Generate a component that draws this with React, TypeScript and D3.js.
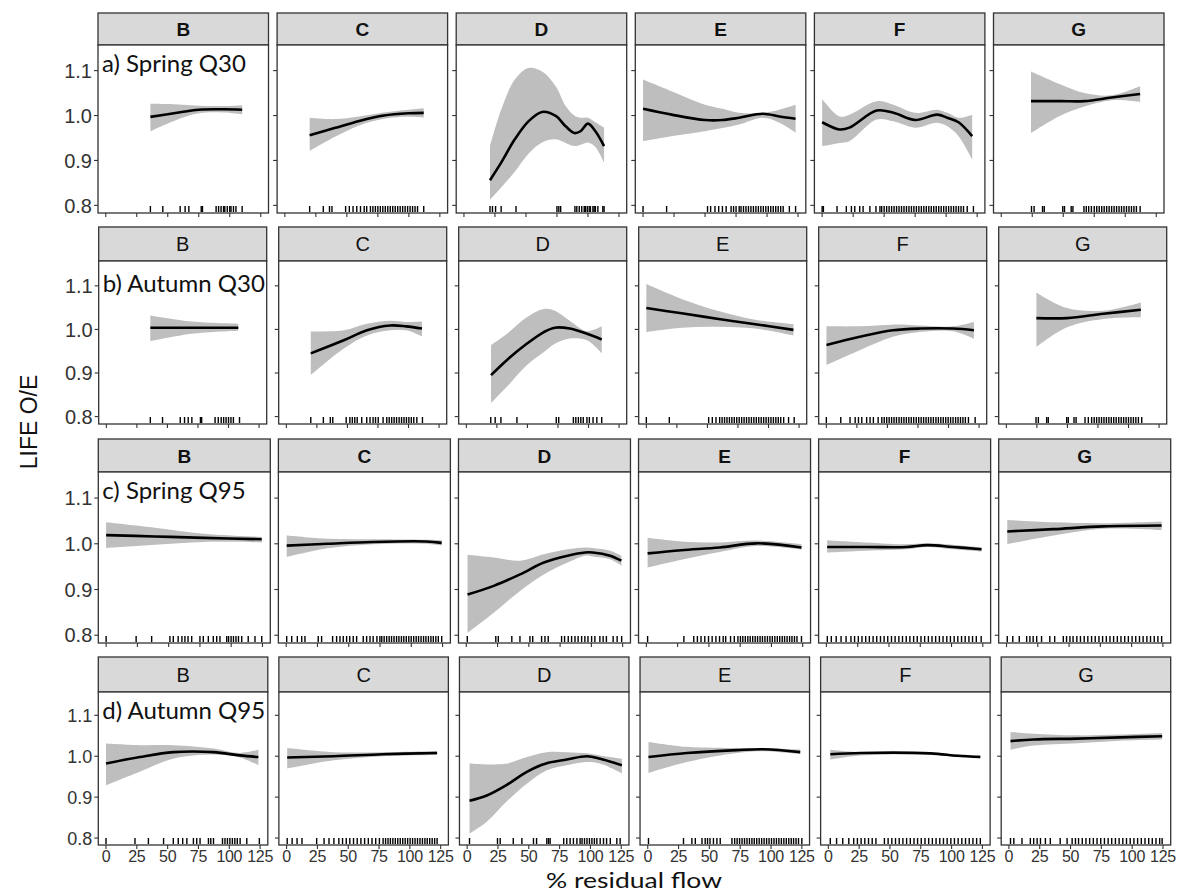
import React from 'react';
import * as d3 from 'd3';

// facet categories
const rivers = ['B', 'C', 'D', 'E', 'F', 'G'];
const rowLabels = ['a) Spring Q30', 'b) Autumn Q30', 'c) Spring Q95', 'd) Autumn Q95'];
const xTicks = [0, 25, 50, 75, 100, 125];
const yTicks = [0.8, 0.9, 1.0, 1.1];
const yTickLabels = ['0.8', '0.9', '1.0', '1.1'];

// smooth fits: [residual flow, fit, lower, upper]
// a) Spring Q30
const aB = [[36, .997, .965, 1.026], [55, 1.005, .988, 1.025], [75, 1.013, 1.005, 1.022], [95, 1.014, 1.007, 1.021], [110, 1.013, 1.003, 1.023]];
const aC = [[20, .956, .921, .995], [40, .972, .952, .992], [60, .988, .978, .998], [80, 1.0, .993, 1.007], [100, 1.005, .997, 1.013], [112, 1.006, .995, 1.016]];
const aD = [[21, .856, .813, .932], [30, .895, .84, 1.013], [41, .947, .875, 1.08], [52, .987, .915, 1.106], [63, 1.008, .94, 1.098], [74, .999, .947, 1.065], [82, .976, .939, 1.021], [89, .961, .932, 1.0], [94, .965, .935, .995], [100, .982, .94, .995], [106, .965, .93, .985], [113, .932, .895, .973]];
const aE = [[0, 1.015, .943, 1.08], [23, 1.002, .954, 1.054], [50, .99, .965, 1.024], [64, .99, .972, 1.015], [77.5, .995, .98, 1.006], [96.5, 1.004, .995, 1.006], [110, .998, .984, 1.013], [123, .993, .962, 1.024]];
const aF = [[0, .985, .932, 1.037], [14, .969, .939, .998], [22, .973, .943, 1.002], [44, 1.011, .991, 1.032], [57.5, 1.006, .987, 1.024], [75, .99, .973, 1.006], [92.7, 1.002, .984, 1.013], [101, .995, .976, 1.006], [110, .985, .954, .995], [121, .954, .902, 1.002]];
const aG = [[24, 1.032, .961, 1.098], [48, 1.032, 1.0, 1.069], [67, 1.032, 1.02, 1.05], [89, 1.04, 1.034, 1.045], [112, 1.048, 1.03, 1.065]];
// b) Autumn Q30
const bB = [[36, 1.004, .973, 1.032], [70, 1.004, .99, 1.018], [108, 1.004, .997, 1.013]];
const bC = [[20, .945, .895, .995], [47, .975, .956, .998], [66, .998, .986, 1.013], [85, 1.009, .998, 1.02], [98, 1.007, .998, 1.017], [111, 1.002, .984, 1.018]];
const bD = [[20.2, .895, .831, .964], [33.3, .93, .869, .99], [49.4, .967, .918, 1.028], [63.5, .994, .948, 1.047], [72.5, 1.004, .967, 1.043], [84.6, 1.002, .979, 1.02], [98.7, .99, .975, .996], [110.8, .977, .945, 1.007]];
const bE = [[0, 1.049, .994, 1.104], [28.9, 1.037, 1.004, 1.07], [59.1, 1.024, 1.006, 1.042], [89.2, 1.012, 1.002, 1.022], [120.4, .999, .986, 1.012]];
const bF = [[0.1, .964, .918, 1.007], [27.3, .983, .952, 1.007], [54.4, .998, .983, 1.011], [76.6, 1.002, .994, 1.009], [103.7, 1.002, .996, 1.007], [120.8, .998, .979, 1.017]];
const bG = [[24.6, 1.026, .96, 1.085], [49.7, 1.026, 1.005, 1.049], [79.4, 1.036, 1.024, 1.043], [110.1, 1.045, 1.028, 1.062]];
// c) Spring Q95
const cB = [[0, 1.019, .991, 1.047], [39, 1.016, .998, 1.035], [78.3, 1.013, 1.004, 1.022], [124.4, 1.01, 1.003, 1.015]];
const cC = [[0.4, .996, .971, 1.018], [33, 1.0, .99, 1.011], [69.5, 1.004, .999, 1.01], [111.7, 1.005, 1.0, 1.009], [124.3, 1.002, .996, 1.008]];
const cD = [[1, .889, .805, .976], [22, .908, .849, .97], [43, .933, .897, .963], [62, .959, .933, .977], [81, .974, .959, .988], [95, .981, .974, .992], [101, .981, .972, .991], [115, .974, .966, .985], [124, .963, .952, .974]];
const cE = [[1, .979, .948, 1.013], [28, .986, .965, 1.005], [58.6, .992, .982, 1.003], [88, 1.001, .995, 1.007], [124, .992, .987, .999]];
const cF = [[0.6, .993, .981, 1.008], [32, .993, .985, 1.003], [64, .993, .988, .999], [80.5, .997, .993, 1.001], [101, .993, .988, .998], [124, .988, .983, .992]];
const cG = [[0.6, 1.027, .999, 1.052], [37.5, 1.032, 1.018, 1.047], [77.3, 1.038, 1.033, 1.045], [124, 1.04, 1.03, 1.049]];
// d) Autumn Q95
const dB = [[0, .982, .929, 1.031], [27.4, .998, .962, 1.027], [54.6, 1.01, .994, 1.027], [87.1, 1.01, 1.004, 1.019], [108.5, 1.002, .997, 1.008], [123.6, .998, .978, 1.016]];
const dC = [[0.5, .997, .97, 1.02], [38.4, 1.0, .99, 1.01], [78.3, 1.005, 1.0, 1.01], [122.1, 1.008, 1.003, 1.012]];
const dD = [[1.9, .891, .811, .982], [15.9, .904, .84, .98], [32.2, .93, .89, .982], [48.4, .962, .933, .998], [64.6, .983, .966, 1.01], [80.8, .992, .978, 1.01], [97.1, 1.0, .986, 1.007], [107.9, .994, .982, 1.002], [125.5, .978, .958, .994]];
const dE = [[0.6, .998, .959, 1.035], [31.8, 1.008, .986, 1.023], [72.4, 1.015, 1.008, 1.02], [94, 1.017, 1.012, 1.02], [123.7, 1.01, 1.005, 1.016]];
const dF = [[1.6, 1.005, .992, 1.016], [25.9, 1.008, 1.002, 1.01], [82.7, 1.007, 1.004, 1.009], [104.4, 1.001, .998, 1.004], [123.3, .998, .995, 1.002]];
const dG = [[1.3, 1.037, 1.016, 1.059], [20.1, 1.041, 1.026, 1.055], [55.3, 1.043, 1.032, 1.051], [90.4, 1.046, 1.038, 1.053], [124.3, 1.049, 1.041, 1.057]];

// rug (site residual flow values)
const aBRug = [36, 46, 60, 64, 67, 77, 78, 89, 91, 93, 95, 96, 98, 100, 101, 103, 105, 110];
const aCRug = [20, 31, 36, 38, 49, 52, 55, 58, 61, 64, 66, 69, 71, 73, 75, 77, 79, 81, 83, 85, 87, 89, 91, 93, 95, 97, 99, 101, 103, 105, 107, 112];
const aDRug = [21, 23, 25.5, 30, 42, 75, 76.5, 78, 89.5, 91, 93, 95, 97, 98, 99.5, 101, 102, 104, 105, 106, 108, 112, 113];
const aERug = [0, 19, 52, 54.5, 58, 61, 64, 67, 71, 73, 75, 77.5, 79, 81, 83, 85, 87, 89, 91, 93, 95, 97, 99, 101, 103, 105, 107, 109, 111, 113, 118, 123];
const aFRug = [0, 1, 12, 19.5, 23.6, 26.3, 30.3, 33, 38.5, 43.4, 46.6, 48, 50, 52, 54, 56, 58, 60, 62, 64, 66, 68, 70, 72, 74, 76, 78, 80, 82, 84, 86, 88, 90, 92, 94, 96, 98, 100, 102, 104, 106, 108, 110, 112, 114, 117, 122];
const aGRug = [24.4, 26.5, 33.3, 34.7, 49.6, 51, 56.4, 57.8, 66.7, 68.6, 70.5, 72.7, 75, 77, 79, 81, 83, 85, 87, 89, 91, 93, 95, 97, 99, 101, 103, 105, 107, 109, 112];
const bBRug = [36, 46, 60.5, 64, 67, 70, 77, 78, 89, 91.6, 94, 96, 98, 100, 102, 104, 109];
const bCRug = [20, 30.3, 36, 38, 49, 52, 54, 56, 58, 61.7, 65.8, 68.5, 71, 73, 75.2, 79.2, 82.2, 84.2, 86.2, 88.2, 90.2, 92.3, 94.3, 96.3, 98.3, 100.3, 102.3, 104.3, 106.8, 111.4];
const bDRug = [20, 23.6, 28.3, 41.4, 73.6, 75.6, 87.6, 89.6, 91.7, 93.7, 95.7, 98.7, 100.7, 103.7, 106.8, 110.8];
const bERug = [0, 18.8, 51, 54, 57, 60, 62, 64, 66, 68, 70, 72, 74, 76, 78, 80, 82, 84, 86, 88, 90, 92, 94, 96, 98, 100, 102, 104, 106, 108, 110, 112.4, 116.4, 121];
const bFRug = [0, 11.8, 19.4, 23.6, 26.3, 29, 33, 35.8, 38.5, 42.4, 45.4, 47.4, 49.4, 51.4, 53.4, 55.4, 57.4, 59.5, 61.5, 63.5, 65.5, 67.5, 69.5, 71.5, 73.6, 75.6, 77.6, 79.6, 81.6, 83.6, 85.6, 87.6, 89.7, 91.7, 93.7, 95.7, 97.7, 99.7, 101.7, 103.7, 105.8, 107.8, 109.8, 111.8, 113.8, 116.3, 121.8];
const bGRug = [24.3, 26.2, 33, 34.3, 49.4, 50.7, 55.4, 57.1, 64.4, 67.1, 69.8, 71.9, 73.9, 75.9, 77.9, 79.9, 81.9, 83.9, 85.9, 87.9, 89.9, 92, 94, 96, 98, 100, 102, 104, 106, 108.1, 110.8];
const cBRug = [0, 24, 36.4, 51, 53.7, 57.6, 60.6, 63, 65.5, 68.4, 75, 77.7, 81.7, 85.7, 88.4, 91, 96.4, 97.9, 99.9, 101.8, 103.8, 105.8, 108.4, 113.6, 119, 124.4];
const cCRug = [0.4, 4.4, 8.9, 12.4, 15, 25.6, 28.3, 37.1, 40.3, 43, 45.6, 48.3, 50.8, 53.6, 56.3, 61.6, 64.3, 67, 69.5, 72.5, 74.9, 76.4, 78.3, 80.3, 82.3, 84.2, 86.2, 88.2, 90.1, 92.1, 94, 96, 98, 99.9, 101.9, 103.9, 105.8, 107.8, 109.8, 111.7, 113.7, 115.7, 117.6, 119.6, 121.6, 124.3];
const cDRug = [0.8, 23.6, 25.6, 36.4, 42.9, 50.9, 53.1, 60.2, 62.9, 65.5, 76.2, 78.6, 81.5, 84.2, 86.9, 89.4, 92.2, 94.8, 97.3, 100.2, 102.8, 106.8, 109.4, 112, 117.4, 120.6, 124.2];
const cERug = [1, 30, 37.9, 40.8, 43.7, 46.7, 49.7, 52.6, 55.6, 58.5, 61.4, 63.4, 67.3, 70.3, 73.2, 75.2, 77.1, 79.1, 81.1, 83, 85, 87, 88.9, 90.9, 92.8, 94.8, 96.8, 98.8, 100.7, 102.7, 104.7, 106.6, 108.6, 110.5, 112.5, 114.5, 116.4, 118.4, 120.4, 124];
const cFRug = [0.7, 3.9, 7.8, 11.7, 15.7, 19.6, 22.5, 25.5, 28.4, 31.4, 34.3, 37.3, 40.2, 43.2, 46.1, 49, 52, 54.9, 57.9, 60.8, 63.8, 66.7, 69.7, 72.6, 75.6, 78.5, 81.5, 84.4, 87.3, 90.3, 93.2, 96.2, 99.1, 102.1, 105, 108, 110.9, 113.9, 116.8, 119.8, 123.7];
const cGRug = [0.6, 5, 10.2, 16.1, 18.7, 21.3, 24.1, 28, 34.6, 38.5, 45.4, 48, 50.7, 53.2, 56.2, 59.1, 62.1, 65, 68, 70.9, 73.9, 76.8, 79.8, 82.7, 85.6, 88.6, 91.5, 94.5, 97.4, 100.4, 103.3, 106.3, 109.2, 112.2, 115.1, 118.1, 121, 124];
const dBRug = [0, 23.5, 34.4, 46.7, 54.6, 58.6, 62.2, 65.6, 70.9, 73.6, 76.3, 83.1, 85, 87.2, 94.5, 96.5, 98.5, 100.5, 102.5, 104.5, 106.5, 108.8, 114.2, 124.4];
const dCRug = [0.5, 4.5, 8.5, 12.5, 24.4, 30.4, 34.4, 38.4, 42.4, 45.4, 48.4, 51.3, 54.3, 57.3, 60.3, 63.3, 66.3, 69.3, 72.3, 75.3, 78.3, 80.3, 82.3, 84.2, 86.2, 88.2, 90.2, 92.2, 94.2, 96.2, 98.2, 100.2, 102.2, 104.2, 106.2, 108.2, 110.2, 112.2, 114.1, 116.1, 118.1, 120.1, 122.1];
const dDRug = [1.9, 24.6, 26.8, 37.4, 44.4, 53.8, 56.3, 64.6, 66, 67.3, 78.3, 80.8, 83.5, 86.2, 89, 91.6, 93.2, 95.2, 97.2, 99.2, 101.2, 103.2, 105.2, 107.9, 110.6, 113.1, 116.1, 121.4, 124.1];
const dERug = [0.6, 29, 35.8, 38.6, 44, 46.6, 48.5, 50.5, 53.3, 56.1, 58.8, 68.3, 70.5, 72.5, 74.5, 76.5, 78.5, 80.5, 82.5, 84.5, 86.4, 88.4, 90.4, 92.4, 94.4, 96.4, 98.4, 100.4, 102.4, 104.4, 106.4, 108.4, 110.4, 112.4, 114.4, 116.4, 118.3, 120.3, 122.3, 125];
const dFRug = [1.6, 6.7, 11.7, 16.6, 20.6, 23.6, 26.6, 29.6, 32.6, 35.6, 38.6, 45.5, 48.5, 51.5, 54.5, 57.5, 60.5, 63.5, 66.5, 69.5, 72.4, 75.4, 78.4, 81.4, 84.4, 87.4, 90.4, 93.4, 96.4, 99.4, 102.3, 105.3, 108.3, 111.3, 114.3, 117.3, 120.3, 123.3];
const dGRug = [1.3, 4, 10.6, 17.4, 20.1, 22.9, 25.6, 29.6, 33.6, 41.6, 47.2, 51.3, 54, 56.5, 59.5, 62.5, 65.5, 68.5, 71.5, 74.5, 77.5, 80.5, 83.4, 86.4, 89.4, 92.4, 95.4, 98.4, 101.4, 104.4, 107.4, 110.4, 113.4, 116.3, 119.3, 122.3, 124.3];

const curves = [[aB, aC, aD, aE, aF, aG], [bB, bC, bD, bE, bF, bG], [cB, cC, cD, cE, cF, cG], [dB, dC, dD, dE, dF, dG]];
const rugs = [[aBRug, aCRug, aDRug, aERug, aFRug, aGRug], [bBRug, bCRug, bDRug, bERug, bFRug, bGRug], [cBRug, cCRug, cDRug, cERug, cFRug, cGRug], [dBRug, dCRug, dDRug, dERug, dFRug, dGRug]];

// layout of each facet row (the figure was pasted together from four plots)
const layout = [
  { top: 13, stripH: 32, bottom: 213, left: 98, right: 1164, w: 170.5, bold: true, tickFont: 20, labelDy: 27 },
  { top: 227, stripH: 34, bottom: 424, left: 98.7, right: 1166.7, w: 168, bold: false, tickFont: 20, labelDy: 31 },
  { top: 439, stripH: 33, bottom: 643, left: 98.3, right: 1170.7, w: 172, bold: true, tickFont: 20, labelDy: 27 },
  { top: 657, stripH: 35, bottom: 845, left: 98.3, right: 1170.7, w: 169.5, bold: false, tickFont: 18, labelDy: 27 },
];

const ARIAL = '"Liberation Sans", Arial, sans-serif';
const LABEL_FONT = 'Lato, "Open Sans", sans-serif';

function Panel({ row, col }) {
  const L = layout[row];
  const gap = (L.right - L.left - 6 * L.w) / 5;
  const px = L.left + col * (L.w + gap);
  const panelTop = L.top + L.stripH;
  const x = d3.scaleLinear().domain([-6.25, 131.25]).range([px, px + L.w]);
  const y = d3.scaleLinear().domain([0.783, 1.157]).range([L.bottom, panelTop]);
  const data = curves[row][col];
  const area = d3.area()
    .x(d => x(d[0])).y0(d => y(d[2])).y1(d => y(d[3]))
    .curve(d3.curveCatmullRom.alpha(0.5));
  const line = d3.line()
    .x(d => x(d[0])).y(d => y(d[1]))
    .curve(d3.curveCatmullRom.alpha(0.5));
  const lastRow = row === layout.length - 1;

  return (
    <g>
      {/* strip */}
      <rect x={px} y={L.top} width={L.w} height={L.stripH} fill="#d9d9d9" stroke="#333" strokeWidth={1.3} />
      <text x={px + L.w / 2} y={L.top + L.stripH / 2 + 7} textAnchor="middle"
        fontFamily={ARIAL} fontSize={L.bold ? 19 : 20} fontWeight={L.bold ? 'bold' : 'normal'} fill="#111">
        {rivers[col]}
      </text>
      {/* panel */}
      <rect x={px} y={panelTop} width={L.w} height={L.bottom - panelTop} fill="#fff" />
      <path d={area(data)} fill="#bebebe" />
      <path d={line(data)} fill="none" stroke="#000" strokeWidth={2.6} />
      {rugs[row][col].map((v, i) => (
        <line key={i} x1={x(v)} x2={x(v)} y1={L.bottom - 1} y2={L.bottom - 7} stroke="#000" strokeWidth={1.4} />
      ))}
      <rect x={px} y={panelTop} width={L.w} height={L.bottom - panelTop} fill="none" stroke="#333" strokeWidth={1.3} />
      {/* ticks */}
      {yTicks.map((t, i) => (
        <line key={'y' + i} x1={px - 4} x2={px} y1={y(t)} y2={y(t)} stroke="#333" strokeWidth={1.1} />
      ))}
      {xTicks.map((t, i) => (
        <line key={'x' + i} x1={x(t)} x2={x(t)} y1={L.bottom} y2={L.bottom + 4} stroke="#333" strokeWidth={1.1} />
      ))}
      {col === 0 && yTicks.map((t, i) => (
        <text key={'yl' + i} x={px - 6} y={y(t) + L.tickFont * 0.36} textAnchor="end"
          fontFamily={ARIAL} fontSize={L.tickFont} fill="#333">{yTickLabels[i]}</text>
      ))}
      {lastRow && xTicks.map((t, i) => (
        <text key={'xl' + i} x={x(t)} y={L.bottom + 17} textAnchor="middle"
          fontFamily={ARIAL} fontSize={16} letterSpacing={-0.3} fill="#333">{t}</text>
      ))}
      {col === 0 && (
        <text x={px + 4} y={panelTop + L.labelDy} fontFamily={LABEL_FONT} fontSize={24} fill="#111">
          {rowLabels[row]}
        </text>
      )}
    </g>
  );
}

export default function App() {
  return (
    <svg width={1182} height={893} style={{ position: 'absolute', left: 0, top: 0, background: '#fff' }}>
      <rect width={1182} height={893} fill="#fff" />
      {layout.map((_, r) => rivers.map((_, c) => <Panel key={r + '-' + c} row={r} col={c} />))}
      <text transform="translate(37,422) rotate(-90)" textAnchor="middle" fontFamily={ARIAL} fontSize={23} fill="#111">
        LIFE O/E
      </text>
      <text x={634} y={888} textAnchor="middle" fontFamily={LABEL_FONT} fontSize={22}
        textLength={176} lengthAdjust="spacingAndGlyphs" fill="#111">
        % residual flow
      </text>
    </svg>
  );
}
